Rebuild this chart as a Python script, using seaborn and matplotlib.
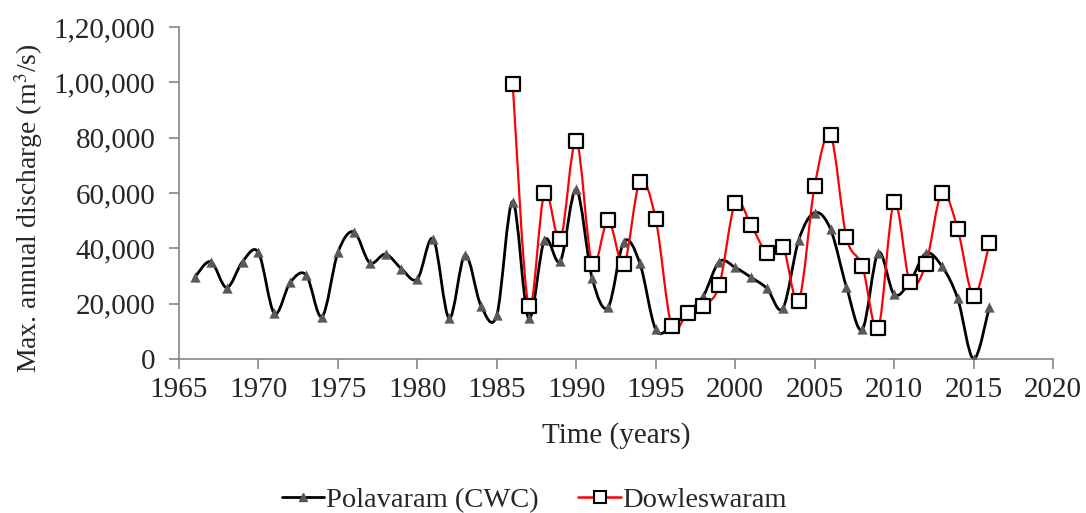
import numpy as np
import seaborn as sns
import matplotlib
matplotlib.use("Agg")
import matplotlib.pyplot as plt
from matplotlib.path import Path
from matplotlib.patches import PathPatch
from matplotlib.lines import Line2D
from matplotlib.ticker import FuncFormatter

# Data (max. annual discharge, m3/s)
years_pol = list(range(1966, 2017))
polavaram = [29600, 35200, 25800, 35200, 38500, 16500, 27700, 30400, 15300, 38500,
             46000, 34800, 37900, 32600, 28900, 43400, 14700, 37600, 19300, 15900,
             56900, 14700, 43000, 35400, 61300, 29200, 18700, 42400, 34600, 10700,
             12000, 16700, 22800, 35200, 33100, 29500, 25500, 18300, 43000, 52900,
             46900, 26100, 10700, 38400, 23400, 27900, 38200, 33600, 21900, 0,
             18900]

years_dow = list(range(1986, 2017))
dowleswaram = [99400, 19200, 60100, 43300, 78900, 34300, 50200, 34300, 64100, 50500,
               11900, 16700, 19300, 26700, 56300, 48400, 38400, 40600, 21100, 62500,
               80800, 44000, 33600, 11100, 56600, 27700, 34300, 60100, 47000, 22800,
               41800]

x_ticks = list(range(1965, 2021, 5))
y_ticks = [0, 20000, 40000, 60000, 80000, 100000, 120000]


def indian_format(v, pos=None):
    # 1,20,000 style grouping
    s = str(int(round(v)))
    if len(s) <= 3:
        return s
    head, tail = s[:-3], s[-3:]
    groups = []
    while len(head) > 2:
        groups.insert(0, head[-2:])
        head = head[:-2]
    if head:
        groups.insert(0, head)
    return ",".join(groups + [tail])


def smooth_path(x, y):
    # Excel-like smoothed line: Catmull-Rom segments as cubic Bezier curves
    x = np.asarray(x, float)
    y = np.asarray(y, float)
    n = len(x)
    verts = [(x[0], y[0])]
    codes = [Path.MOVETO]
    for i in range(n - 1):
        a = i - 1 if i > 0 else i
        b = i + 2 if i + 2 < n else i + 1
        c1 = (x[i] + (x[i + 1] - x[a]) / 6, y[i] + (y[i + 1] - y[a]) / 6)
        c2 = (x[i + 1] - (x[b] - x[i]) / 6, y[i + 1] - (y[b] - y[i]) / 6)
        verts += [c1, c2, (x[i + 1], y[i + 1])]
        codes += [Path.CURVE4] * 3
    return Path(verts, codes)


sns.set_style("ticks")
plt.rcParams['font.family'] = ['Liberation Serif', 'DejaVu Serif']
plt.rcParams['mathtext.fontset'] = 'stix'

fig, ax = plt.subplots(figsize=(10.86, 5.13), dpi=100)
fig.subplots_adjust(left=179 / 1086, right=1053 / 1086, top=1 - 27 / 513, bottom=1 - 359 / 513)

# smoothed lines
ax.add_patch(PathPatch(smooth_path(years_pol, polavaram), facecolor='none',
                       edgecolor='black', linewidth=2, zorder=2))
ax.add_patch(PathPatch(smooth_path(years_dow, dowleswaram), facecolor='none',
                       edgecolor='red', linewidth=1.6, zorder=3))

# markers
sns.scatterplot(x=years_pol, y=polavaram, marker='^', s=55, color='#595959',
                edgecolor='#595959', linewidth=0, ax=ax, zorder=4)
sns.scatterplot(x=years_dow, y=dowleswaram, marker='s', s=110, color='white',
                edgecolor='black', linewidth=1.6, ax=ax, zorder=5)

ax.set_xlim(1965, 2020)
ax.set_ylim(0, 120000)
ax.set_xticks(x_ticks)
ax.set_yticks(y_ticks)
ax.yaxis.set_major_formatter(FuncFormatter(indian_format))
ax.tick_params(axis='both', labelsize=21, length=7, width=1.2, color='#868686',
               direction='out')
ax.tick_params(axis='x', pad=6)
ax.tick_params(axis='y', pad=10)

for side in ['top', 'right']:
    ax.spines[side].set_visible(False)
for side in ['left', 'bottom']:
    ax.spines[side].set_color('#868686')
    ax.spines[side].set_linewidth(1.2)

ax.set_xlabel("Time (years)", fontsize=21, labelpad=14)
ax.set_ylabel("Max. annual discharge (m$^3$/s)", fontsize=20, labelpad=6)
ax.yaxis.label.set_y(0.455)

handles = [
    Line2D([], [], color='black', linewidth=2, marker='^', markersize=6,
           markerfacecolor='#595959', markeredgecolor='#595959'),
    Line2D([], [], color='red', linewidth=1.8, marker='s', markersize=8,
           markerfacecolor='white', markeredgecolor='black', markeredgewidth=1.5),
]
fig.legend(handles, ["Polavaram (CWC)", "Dowleswaram"], loc='lower center',
           bbox_to_anchor=(0.492, -0.05), ncol=2, frameon=False, fontsize=20.5,
           handlelength=1.5, handletextpad=0.05, columnspacing=1.4)

fig.savefig("out.png", dpi=100)
